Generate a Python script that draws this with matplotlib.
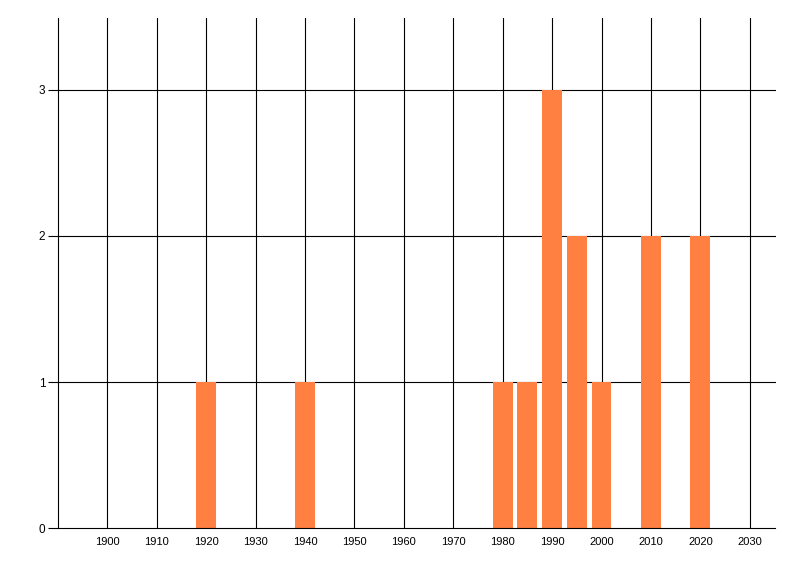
import matplotlib
matplotlib.use("Agg")
import matplotlib.pyplot as plt

# data
years = [1920, 1940, 1980, 1985, 1990, 1995, 2000, 2010, 2020]
counts = [1, 1, 1, 1, 3, 2, 1, 2, 2]
xticks = list(range(1900, 2031, 10))
yticks = [0, 1, 2, 3]

plt.rcParams['font.family'] = ['Liberation Sans', 'DejaVu Sans']

fig = plt.figure(figsize=(8, 5.76), dpi=100)
ax = fig.add_axes([57.8 / 800, 1 - 528.3 / 576, (775.5 - 57.8) / 800, (528.3 - 18) / 576])

ax.set_xlim(1890, 2035.2)
ax.set_ylim(0, 3.49)

lw = 0.8
# grid lines behind the bars
for x in xticks:
    ax.axvline(x, color='black', lw=lw, zorder=1)
for y in yticks[1:]:
    ax.axhline(y, color='black', lw=lw, zorder=1)

ax.bar(years, counts, width=4, color='#FF8040', zorder=2)

ax.set_xticks(xticks)
ax.set_xticklabels([str(x) for x in xticks])
ax.set_yticks(yticks)
ax.tick_params(axis='x', length=0, labelsize=8, pad=6)
ax.tick_params(axis='y', length=7, width=lw, labelsize=8.5, pad=2)

for s in ['top', 'right']:
    ax.spines[s].set_visible(False)
for s in ['left', 'bottom']:
    ax.spines[s].set_linewidth(lw)
    ax.spines[s].set_color('black')

fig.savefig('out.png', dpi=100)
